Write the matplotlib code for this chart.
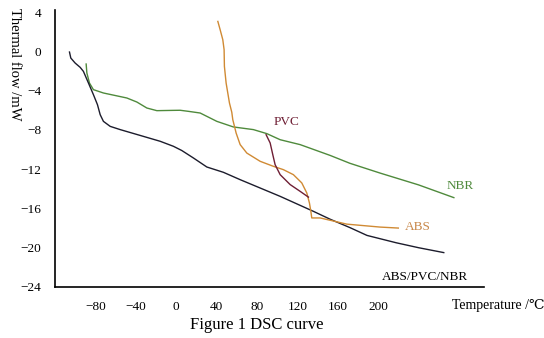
import matplotlib.pyplot as plt

plt.rcParams['font.family'] = ['Liberation Serif', 'DejaVu Serif']

# DSC curves (temperature in degC, heat flow in mW)
blend_t = [-105.6, -104.3, -100, -95, -91.8, -86.8, -81.9, -77.9, -75.2, -72, -65.3, -55.4, -32.4, -15.8,
           -2.7, 5.6, 17.1, 30.4, 46.8, 63.4, 103, 136, 152.5, 172, 189, 218, 240, 265]
blend_q = [-0.07, -0.68, -1.19, -1.63, -2.04, -3.23, -4.41, -5.43, -6.45, -7.13, -7.64, -7.97, -8.66, -9.16,
           -9.67, -10.1, -10.86, -11.78, -12.32, -13.07, -14.77, -16.3, -17.1, -17.95, -18.75, -19.5, -20.0, -20.5]

nbr_t = [-89.1, -88.4, -85.8, -81.9, -72, -48.8, -38.9, -29, -19.1, -2.7, 4, 12.2, 23.8, 40.3, 56.7, 76.5,
         89.8, 103, 122.8, 152.5, 172, 202, 240, 275]
nbr_q = [-1.29, -2.2, -3.23, -3.9, -4.24, -4.75, -5.16, -5.77, -6.04, -6.01, -6.0, -6.11, -6.28, -7.13, -7.7, -7.97,
         -8.38, -9.0, -9.5, -10.6, -11.4, -12.4, -13.6, -14.9]

abs_t = [41.3, 43.6, 46.2, 47.5, 47.8, 49.5, 52.8, 55.1, 56.1, 58.4, 59.4, 61.7, 63.4, 70, 83.2, 96.3, 106.2,
         116.1, 124.4, 129.4, 132, 133.4, 134.3, 142.6, 169, 202, 220]
abs_q = [3.05, 2.2, 1.19, 0.17, -1.53, -3.23, -5.26, -6.2, -6.96, -7.9, -8.32, -9.0, -9.5, -10.36, -11.2, -11.71,
         -12.05, -12.56, -13.4, -14.43, -15.45, -16.3, -16.97, -16.97, -17.6, -17.9, -18.0]

pvc_t = [89.1, 93.1, 95.7, 98, 103, 112.9, 122.8, 131]
pvc_q = [-8.49, -9.33, -10.52, -11.54, -12.56, -13.57, -14.26, -14.85]

x_ticks = [-80, -40, 0, 40, 80, 120, 160, 200]
y_ticks = [4, 0, -4, -8, -12, -16, -20, -24]

fig = plt.figure(figsize=(5.44, 3.38), dpi=100)
ax = fig.add_axes([0.101, 0.151, 0.789, 0.819])

ax.plot(nbr_t, nbr_q, color='#4f8a3c', lw=1.0)
ax.plot(blend_t, blend_q, color='#1c1c2c', lw=1.0)
ax.plot(abs_t, abs_q, color='#d08a34', lw=1.0)
ax.plot(pvc_t, pvc_q, color='#6e1e34', lw=1.0)

ax.text(109, -7.2, 'PVC', color='#6e1e34', fontsize=9.5, ha='center', va='center')
ax.text(281, -13.75, 'NBR', color='#4f8a3c', fontsize=9.5, ha='center', va='center')
ax.text(239, -17.9, 'ABS', color='#c8884a', fontsize=9.5, ha='center', va='center')
ax.text(246.5, -23.0, 'ABS/PVC/NBR', color='black', fontsize=9.5, ha='center', va='center')

ax.set_xlim(-120, 305)
ax.set_ylim(-24, 4.2)
ax.set_xticks(x_ticks)
ax.set_yticks(y_ticks)
ax.tick_params(length=0, labelsize=9.5, pad=10)
ax.spines['top'].set_visible(False)
ax.spines['right'].set_visible(False)
ax.spines['left'].set_linewidth(1.2)
ax.spines['bottom'].set_linewidth(1.2)

fig.text(0.026, 0.975, 'Thermal flow /mW', rotation=270, ha='center', va='top', fontsize=10.5)
fig.text(0.83, 0.097, 'Temperature /\u2103', ha='left', va='center', fontsize=10)
fig.text(0.472, 0.038, 'Figure 1 DSC curve', ha='center', va='center', fontsize=12)

fig.savefig('out.png', dpi=100)
